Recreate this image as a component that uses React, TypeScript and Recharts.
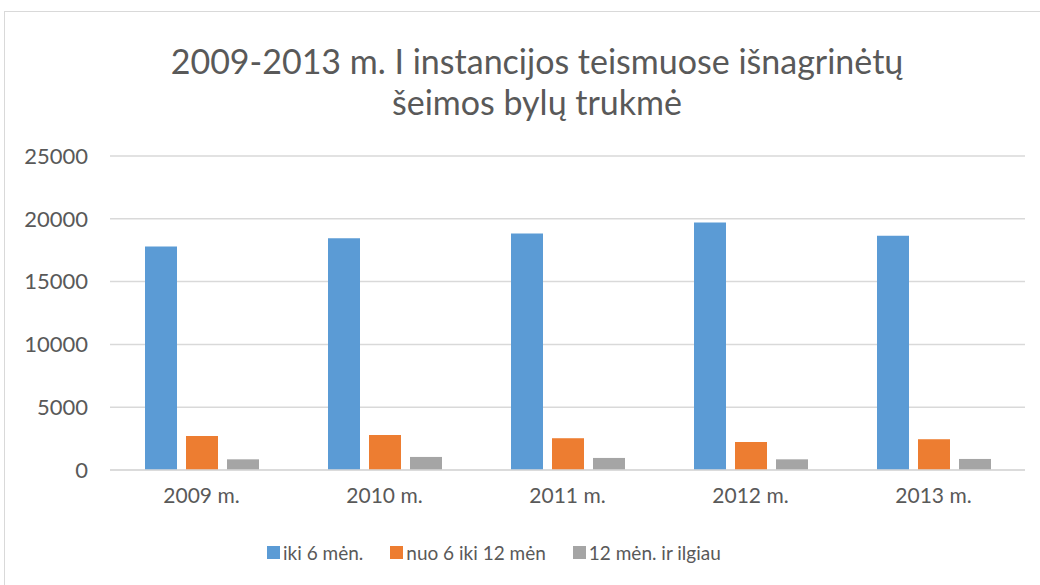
import { BarChart, Bar, XAxis, YAxis, CartesianGrid } from 'recharts'

const YEARS = ['2009 m.', '2010 m.', '2011 m.', '2012 m.', '2013 m.']
const UP_TO_6 = [17800, 18450, 18820, 19700, 18660]
const FROM_6_TO_12 = [2710, 2790, 2530, 2230, 2450]
const OVER_12 = [850, 1040, 960, 850, 880]
const Y_TICKS = [0, 5000, 10000, 15000, 20000, 25000]

const SERIES = [
  { key: 'upTo6', name: 'iki 6 mėn.', color: '#5b9bd5' },
  { key: 'from6to12', name: 'nuo 6 iki 12 mėn', color: '#ed7d31' },
  { key: 'over12', name: '12 mėn. ir ilgiau', color: '#a5a5a5' },
]

const data = YEARS.map((year, i) => ({
  year,
  upTo6: UP_TO_6[i],
  from6to12: FROM_6_TO_12[i],
  over12: OVER_12[i],
}))

const FONT = 'Lato, "Open Sans", sans-serif'
const TEXT = '#595959'

export default function App() {
  return (
    <div style={{ position: 'absolute', left: 0, top: 0, width: 1040, height: 585, background: '#fff', fontFamily: FONT, overflow: 'hidden' }}>
      <div style={{ position: 'absolute', left: 4, top: 11, width: 1040, height: 600, border: '1px solid #d9d9d9' }} />
      <div style={{ position: 'absolute', left: 0, width: 1074, top: 40, textAlign: 'center', color: TEXT, fontSize: 34, lineHeight: '41px' }}>
        2009-2013 m. I instancijos teismuose išnagrinėtų
        <br />
        šeimos bylų trukmė
      </div>
      <BarChart
        width={1040}
        height={585}
        data={data}
        margin={{ top: 156, right: 15, bottom: 75, left: 0 }}
        barSize={32}
        barGap={9}
        style={{ position: 'absolute', left: 0, top: 0 }}
      >
        <CartesianGrid vertical={false} stroke="#d9d9d9" strokeWidth={1.5} />
        <XAxis
          dataKey="year"
          height={40}
          tickLine={false}
          axisLine={{ stroke: '#d9d9d9', strokeWidth: 1.5 }}
          tickMargin={12}
          tick={{ fill: TEXT, fontSize: 21, fontFamily: FONT }}
        />
        <YAxis
          width={110}
          domain={[0, 25000]}
          ticks={Y_TICKS}
          interval={0}
          tickLine={false}
          axisLine={false}
          tickMargin={16}
          tick={{ fill: TEXT, fontSize: 22, fontFamily: FONT }}
        />
        {SERIES.map(s => (
          <Bar key={s.key} dataKey={s.key} name={s.name} fill={s.color} isAnimationActive={false} />
        ))}
      </BarChart>
      <div style={{ position: 'absolute', top: 541, left: 267, display: 'flex', alignItems: 'center', color: TEXT, fontSize: 19 }}>
        {SERIES.map(s => (
          <div key={s.key} style={{ display: 'flex', alignItems: 'center', marginRight: 27 }}>
            <div style={{ width: 13, height: 13, background: s.color, marginRight: 3 }} />
            <span>{s.name}</span>
          </div>
        ))}
      </div>
    </div>
  )
}
